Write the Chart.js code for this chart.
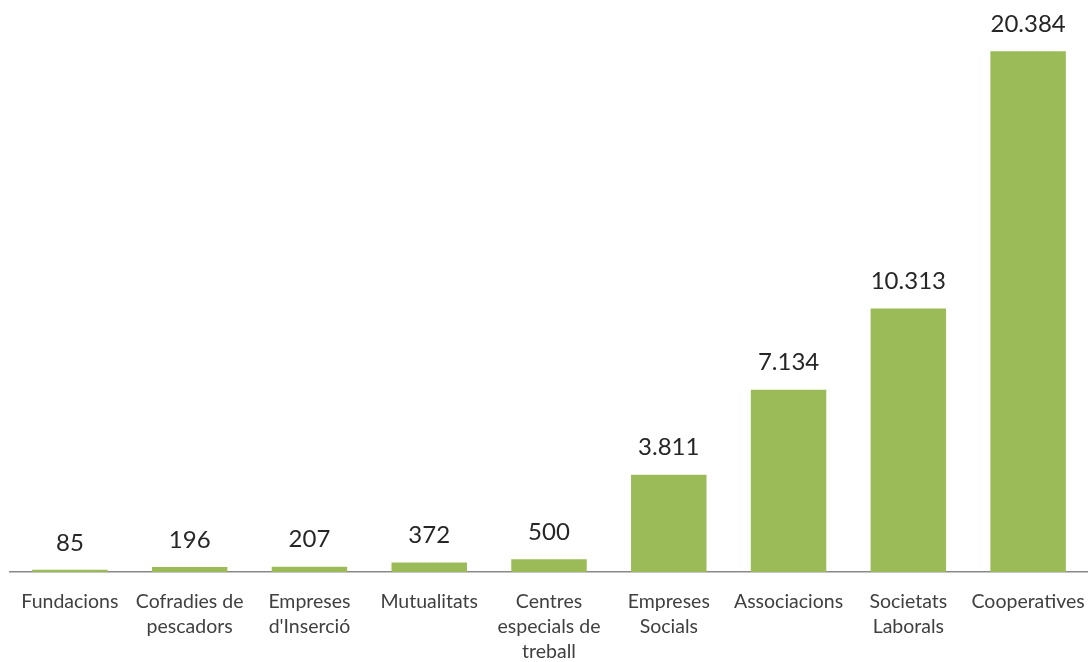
<!DOCTYPE html>
<html>
<head>
<meta charset="utf-8">
<script src="https://cdn.jsdelivr.net/npm/chart.js@4/dist/chart.umd.min.js"></script>
<style>
  html, body { margin: 0; padding: 0; background: #fff; }
  #wrap { width: 1088px; height: 662px; }
</style>
</head>
<body>
<div id="wrap"><canvas id="chart"></canvas></div>
<script>
const categories = [
  "Fundacions",
  ["Cofradies de", "pescadors"],
  ["Empreses", "d'Inserció"],
  "Mutualitats",
  ["Centres", "especials de", "treball"],
  ["Empreses", "Socials"],
  "Associacions",
  ["Societats", "Laborals"],
  "Cooperatives"
];
const values = [85, 196, 207, 372, 500, 3811, 7134, 10313, 20384];

// 20384 -> "20.384"
const fmt = (v) => String(v).replace(/\B(?=(\d{3})+(?!\d))/g, ".");

const valueLabels = {
  id: "valueLabels",
  afterDatasetsDraw(chart) {
    const ctx = chart.ctx;
    const meta = chart.getDatasetMeta(0);
    ctx.save();
    ctx.font = "24px Lato";
    ctx.fillStyle = "#262626";
    ctx.textAlign = "center";
    ctx.textBaseline = "middle";
    meta.data.forEach((bar, i) => {
      ctx.fillText(fmt(values[i]), bar.x, bar.y - 27);
    });
    ctx.restore();
  }
};

new Chart(document.getElementById("chart"), {
  type: "bar",
  data: {
    labels: categories,
    datasets: [{
      data: values,
      backgroundColor: "#9BBB59",
      barPercentage: 0.63,
      categoryPercentage: 1
    }]
  },
  options: {
    responsive: true,
    maintainAspectRatio: false,
    animation: false,
    layout: { padding: { left: 10, right: 0, top: 10, bottom: 0 } },
    plugins: {
      legend: { display: false },
      tooltip: { enabled: false }
    },
    scales: {
      y: {
        display: false,
        min: 0,
        max: 22000
      },
      x: {
        grid: { display: false, drawTicks: false },
        border: { display: true, color: "#898989", width: 1.5 },
        ticks: {
          color: "#404040",
          font: { family: "Lato", size: 19.5, lineHeight: 1.28 },
          padding: 17,
          maxRotation: 0,
          autoSkip: false
        },
        afterFit(scale) {
          scale.height = 90;
          scale.paddingLeft = 0;
          scale.paddingRight = 0;
        }
      }
    }
  },
  plugins: [valueLabels]
});
</script>
</body>
</html>
